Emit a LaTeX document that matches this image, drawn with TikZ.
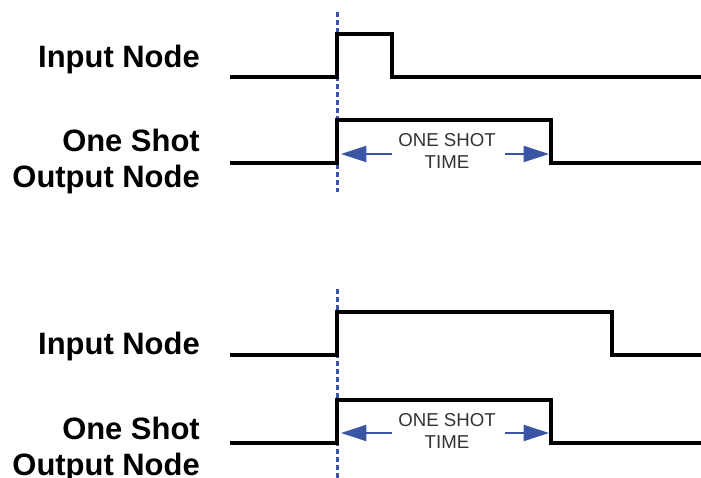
\documentclass[tikz,border=0pt]{standalone}
\usepackage{fontspec}
\setmainfont{Liberation Sans}
\usetikzlibrary{positioning,arrows.meta}
\definecolor{markblue}{HTML}{3B55A5}
\definecolor{notegray}{HTML}{333333}
\tikzset{
  wave/.style={line width=3pt,line join=miter},
  signame/.style={font=\fontsize{23.2}{27}\selectfont\bfseries,inner sep=0pt,align=right},
  note/.style={font=\fontsize{14}{16.5}\selectfont,text=notegray,inner sep=0pt,align=center},
  span/.style={-{Triangle[length=19pt,width=12pt]},draw=markblue,fill=markblue,line width=1.6pt},
  trig/.style={draw=markblue,line width=1.9pt,dash pattern=on 3.75pt off 2.25pt},
}
\begin{document}
\begin{tikzpicture}[x=0.75pt,y=-0.75pt]
  \useasboundingbox (0,0) rectangle (701,478);
  % trigger edge
  \draw[trig] (337.5,12) -- (337.5,192);
  \draw[trig] (337.5,289) -- (337.5,478);
  % short input pulse
  \node[signame,anchor=base east] (in1) at (200,68) {Input Node};
  \draw[wave] (230,77) -- (337,77) -- (337,34) -- (392,34) -- (392,77) -- (701,77);
  \node[signame,anchor=base east] (out1) at (200,188) {One Shot\\Output Node};
  \draw[wave] (230,163) -- (337,163) -- (337,120) -- (551,120) -- (551,163) -- (701,163);
  \node[note] (t1) at (447,151) {ONE SHOT\\TIME};
  \coordinate (l1) at (341,154); \coordinate (r1) at (549,154);
  \draw[span] (392,154) -- (l1);
  \draw[span] (505,154) -- (r1);
  % long input pulse
  \node[signame,anchor=base east] (in2) at (200,354) {Input Node};
  \draw[wave] (230,355) -- (337,355) -- (337,312) -- (612,312) -- (612,355) -- (701,355);
  \node[signame,anchor=base east] (out2) at (200,475) {One Shot\\Output Node};
  \draw[wave] (230,443) -- (337,443) -- (337,400) -- (551,400) -- (551,443) -- (701,443);
  \node[note] (t2) at (447,431) {ONE SHOT\\TIME};
  \coordinate (l2) at (341,433); \coordinate (r2) at (549,433);
  \draw[span] (392,433) -- (l2);
  \draw[span] (505,433) -- (r2);
\end{tikzpicture}
\end{document}
